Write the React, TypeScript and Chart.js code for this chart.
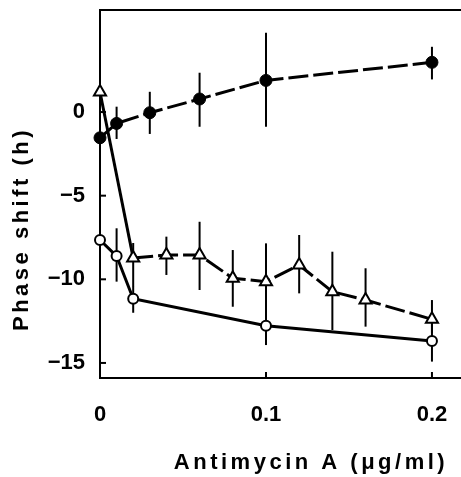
import React, { useEffect, useRef } from 'react';
import { Chart, registerables } from 'chart.js';

Chart.register(...registerables);

const xTickValues = [0, 0.1, 0.2];
const yTickValues = [-15, -10, -5, 0];
const xTitle = 'Antimycin A (μg/ml)';
const yTitle = 'Phase shift (h)';

// Filled circles (dashed line)
const filledX = [0, 0.01, 0.03, 0.06, 0.1, 0.2];
const filledY = [-1.54, -0.68, -0.04, 0.78, 1.89, 2.97];
const filledHi = [null, 0.32, 1.21, 2.35, 4.74, 3.9];
const filledLo = [null, -1.61, -1.31, -0.88, -0.88, 1.95];

// Open circles (solid line)
const openX = [0, 0.01, 0.02, 0.1, 0.2];
const openY = [-7.65, -8.61, -11.16, -12.77, -13.69];
const openHi = [null, -6.95, -10.45, -11.6, -12.6];
const openLo = [null, -10.14, -12.0, -13.93, -14.92];

// Open triangles (dashed line)
const triX = [0, 0.02, 0.04, 0.06, 0.08, 0.1, 0.12, 0.14, 0.16, 0.2];
const triY = [1.2, -8.73, -8.55, -8.55, -9.94, -10.14, -9.15, -10.74, -11.24, -12.39];
const triHi = [null, -7.83, -7.45, -6.56, -8.25, -7.85, -7.35, -8.35, -9.34, -11.24];
const triLo = [null, -10.46, -9.74, -10.64, -11.64, -12.6, -10.84, -13.03, -12.83, -13.2];

const FONT = '"Liberation Sans", Arial, sans-serif';

const toPoints = (xs: number[], ys: number[]) => xs.map((x, i) => ({ x, y: ys[i] }));

const errorSets = [
  { xs: filledX, hi: filledHi, lo: filledLo },
  { xs: openX, hi: openHi, lo: openLo },
  { xs: triX, hi: triHi, lo: triLo },
];

const decorPlugin = {
  id: 'decor',
  beforeDatasetsDraw(chart: any) {
    const { ctx, scales } = chart;
    const xs = scales.x;
    const ys = scales.y;
    ctx.save();
    ctx.strokeStyle = '#000';
    ctx.lineWidth = 2;
    ctx.lineCap = 'butt';
    errorSets.forEach((s) => {
      s.xs.forEach((xv, i) => {
        const h = s.hi[i];
        const l = s.lo[i];
        if (h == null || l == null) return;
        const px = xs.getPixelForValue(xv);
        ctx.beginPath();
        ctx.moveTo(px, ys.getPixelForValue(h));
        ctx.lineTo(px, ys.getPixelForValue(l));
        ctx.stroke();
      });
    });
    ctx.restore();
  },
  afterDraw(chart: any) {
    const { ctx, scales, chartArea } = chart;
    const xs = scales.x;
    const ys = scales.y;
    ctx.save();
    ctx.strokeStyle = '#000';
    ctx.lineWidth = 2;
    // top frame line
    ctx.beginPath();
    ctx.moveTo(chartArea.left - 1, chartArea.top);
    ctx.lineTo(chartArea.right, chartArea.top);
    ctx.stroke();
    // inward ticks on y
    yTickValues.forEach((v) => {
      const py = ys.getPixelForValue(v);
      ctx.beginPath();
      ctx.moveTo(chartArea.left, py);
      ctx.lineTo(chartArea.left + 6, py);
      ctx.stroke();
    });
    // inward ticks on x
    xTickValues.forEach((v) => {
      if (v === 0) return;
      const px = xs.getPixelForValue(v);
      ctx.beginPath();
      ctx.moveTo(px, chartArea.bottom);
      ctx.lineTo(px, chartArea.bottom - 6);
      ctx.stroke();
    });
    // titles
    ctx.fillStyle = '#000';
    ctx.font = `bold 22px ${FONT}`;
    ctx.textAlign = 'center';
    ctx.textBaseline = 'middle';
    (ctx as any).letterSpacing = '3.5px';
    ctx.fillText(xTitle, 311, 463);
    ctx.translate(22, 229);
    ctx.rotate(-Math.PI / 2);
    ctx.fillText(yTitle, 0, 0);
    ctx.restore();
  },
};

export default function App() {
  const ref = useRef<HTMLCanvasElement | null>(null);

  useEffect(() => {
    if (!ref.current) return;
    const chart = new Chart(ref.current, {
      type: 'scatter',
      data: {
        datasets: [
          {
            label: 'filled',
            data: toPoints(filledX, filledY),
            showLine: true,
            borderColor: '#000',
            backgroundColor: '#000',
            borderWidth: 3,
            borderDash: [20, 5],
            pointStyle: 'circle',
            pointRadius: 6,
            pointBorderWidth: 1,
            pointBackgroundColor: '#000',
            pointBorderColor: '#000',
            clip: false,
          },
          {
            label: 'open',
            data: toPoints(openX, openY),
            showLine: true,
            borderColor: '#000',
            backgroundColor: '#fff',
            borderWidth: 3,
            pointStyle: 'circle',
            pointRadius: 5,
            pointBorderWidth: 2,
            pointBackgroundColor: '#fff',
            pointBorderColor: '#000',
            clip: false,
          },
          {
            label: 'triangle',
            data: toPoints(triX, triY),
            showLine: true,
            borderColor: '#000',
            backgroundColor: '#fff',
            borderWidth: 3,
            borderDash: [20, 5],
            segment: {
              borderDash: (c: any) => (c.p0DataIndex === 0 ? [] : [20, 5]),
            },
            pointStyle: 'triangle',
            pointRadius: 7,
            pointBorderWidth: 2,
            pointBackgroundColor: '#fff',
            pointBorderColor: '#000',
            clip: false,
          },
        ],
      },
      options: {
        animation: false,
        responsive: false,
        maintainAspectRatio: false,
        layout: { autoPadding: false, padding: { top: 10, left: 0, right: 0, bottom: 0 } },
        plugins: {
          legend: { display: false },
          tooltip: { enabled: false },
          title: { display: false },
        },
        scales: {
          x: {
            type: 'linear',
            min: 0,
            max: 0.2175,
            afterBuildTicks: (scale: any) => {
              scale.ticks = xTickValues.map((v) => ({ value: v }));
            },
            afterFit: (scale: any) => {
              scale.height = 99;
              scale.paddingLeft = 0;
              scale.paddingRight = 0;
              scale.paddingTop = 0;
              scale.paddingBottom = 0;
            },
            grid: { drawOnChartArea: false, drawTicks: false },
            border: { display: true, color: '#000', width: 2 },
            ticks: {
              color: '#000',
              padding: 24,
              maxRotation: 0,
              font: { family: FONT, size: 22, weight: 'bold' },
              callback: (v: any) => String(Number(v)),
            },
          },
          y: {
            type: 'linear',
            min: -15.9,
            max: 6.1,
            afterBuildTicks: (scale: any) => {
              scale.ticks = yTickValues.map((v) => ({ value: v }));
            },
            afterFit: (scale: any) => {
              scale.width = 100;
              scale.paddingLeft = 0;
              scale.paddingRight = 0;
              scale.paddingTop = 0;
              scale.paddingBottom = 0;
            },
            grid: { drawOnChartArea: false, drawTicks: false },
            border: { display: true, color: '#000', width: 2 },
            ticks: {
              color: '#000',
              padding: 15,
              font: { family: FONT, size: 22, weight: 'bold' },
              callback: (v: any) => (Number(v) < 0 ? '\u2212' + Math.abs(Number(v)) : String(Number(v))),
            },
          },
        },
      },
      plugins: [decorPlugin],
    } as any);
    return () => chart.destroy();
  }, []);

  return (
    <div style={{ position: 'absolute', left: 0, top: 0, width: 461, height: 477, background: '#fff' }}>
      <canvas ref={ref} width={461} height={477} style={{ display: 'block' }} />
    </div>
  );
}
